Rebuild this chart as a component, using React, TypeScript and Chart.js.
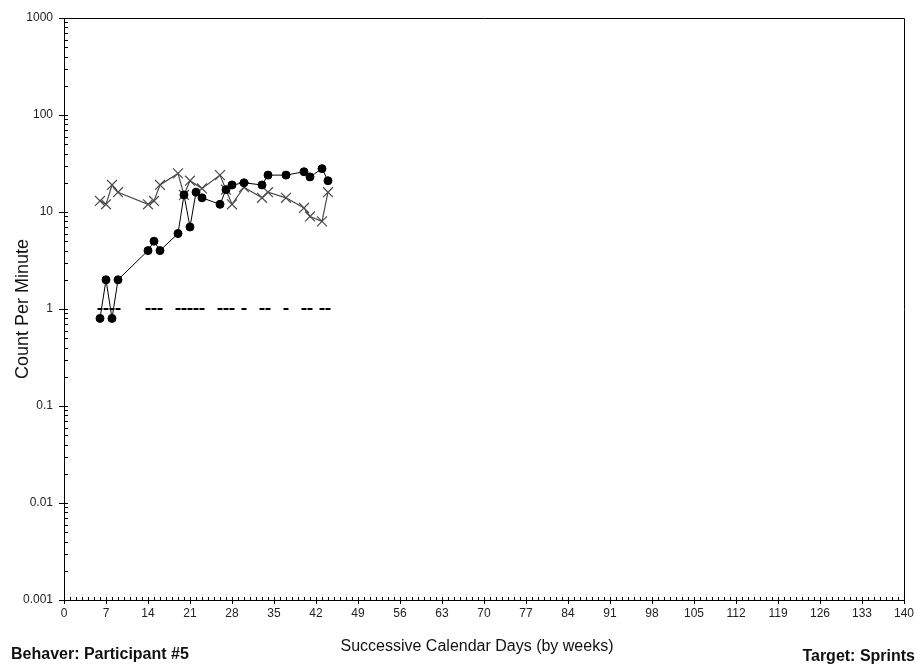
import React, { useEffect, useRef } from "react";
import { Chart, registerables } from "chart.js";

Chart.register(...registerables);

const correctDays = [6, 7, 8, 9, 14, 15, 16, 19, 20, 21, 22, 23, 26, 27, 28, 30, 33, 34, 37, 40, 41, 43, 44];
const correctValues = [0.8, 2, 0.8, 2, 4, 5, 4, 6, 15, 7, 16, 14, 12, 17, 19, 20, 19, 24, 24, 26, 23, 28, 21];

const incorrectDays = [6, 7, 8, 9, 14, 15, 16, 19, 20, 21, 23, 26, 27, 28, 30, 33, 34, 37, 40, 41, 43, 44];
const incorrectValues = [13, 12, 19, 16, 12, 13, 19, 25, 15, 21, 17.5, 24, 17, 12, 18, 14, 16, 14, 11, 9, 8, 16];

const floorDays = [6, 7, 8, 9, 14, 15, 16, 19, 20, 21, 22, 23, 26, 27, 28, 30, 33, 34, 37, 40, 41, 43, 44];
const floorValue = 1;

const yTickValues = [0.001, 0.01, 0.1, 1, 10, 100, 1000];
const yTickLabels = ["0.001", "0.01", "0.1", "1", "10", "100", "1000"];
const xMax = 140;
const xStep = 7;

const yTitle = "Count Per Minute";
const xTitle = "Successive Calendar Days (by weeks)";
const behaverText = "Behaver: Participant #5";
const targetText = "Target: Sprints";

const FONT = "'Liberation Sans', Arial, sans-serif";

const framePlugin = {
  id: "frame",
  afterDraw(chart: any) {
    const ctx = chart.ctx;
    const { left, right, top, bottom } = chart.chartArea;
    const ys = chart.scales.y;
    const xs = chart.scales.x;
    ctx.save();
    ctx.strokeStyle = "#000";
    ctx.lineWidth = 1;
    // frame
    ctx.beginPath();
    ctx.moveTo(Math.round(left) + 0.5, Math.round(top) + 0.5);
    ctx.lineTo(Math.round(right) + 0.5, Math.round(top) + 0.5);
    ctx.lineTo(Math.round(right) + 0.5, Math.round(bottom) + 0.5);
    ctx.lineTo(Math.round(left) + 0.5, Math.round(bottom) + 0.5);
    ctx.closePath();
    ctx.stroke();
    // y ticks
    ctx.beginPath();
    for (let i = 0; i < yTickValues.length; i++) {
      const dec = yTickValues[i];
      const py = Math.round(ys.getPixelForValue(dec)) + 0.5;
      ctx.moveTo(left - 5, py);
      ctx.lineTo(left + 4, py);
      if (i < yTickValues.length - 1) {
        for (let m = 2; m <= 9; m++) {
          const p = Math.round(ys.getPixelForValue(dec * m)) + 0.5;
          ctx.moveTo(left, p);
          ctx.lineTo(left + 4, p);
        }
      }
    }
    // x ticks
    for (let d = 0; d <= xMax; d++) {
      const px = Math.round(xs.getPixelForValue(d)) + 0.5;
      if (d % xStep === 0) {
        ctx.moveTo(px, bottom + 4);
        ctx.lineTo(px, bottom - 3);
      } else {
        ctx.moveTo(px, bottom);
        ctx.lineTo(px, bottom - 3);
      }
    }
    ctx.stroke();

    // titles
    ctx.fillStyle = "#111";
    ctx.font = `16px ${FONT}`;
    ctx.textAlign = "center";
    ctx.textBaseline = "middle";
    ctx.fillText(xTitle, 477, 647);

    ctx.save();
    ctx.translate(23, (top + bottom) / 2);
    ctx.rotate(-Math.PI / 2);
    ctx.font = `18px ${FONT}`;
    ctx.fillText(yTitle, 0, 0);
    ctx.restore();

    ctx.font = `bold 16px ${FONT}`;
    ctx.textAlign = "left";
    ctx.textBaseline = "alphabetic";
    ctx.fillText(behaverText, 11, 659);
    ctx.textAlign = "right";
    ctx.fillText(targetText, 915, 661);
    ctx.restore();
  },
};

export default function App() {
  const ref = useRef<HTMLCanvasElement | null>(null);
  useEffect(() => {
    if (!ref.current) return;
    const chart = new Chart(ref.current, {
      type: "line",
      data: {
        datasets: [
          {
            label: "Correct",
            data: correctDays.map((d, i) => ({ x: d, y: correctValues[i] })),
            borderColor: "#000",
            backgroundColor: "#000",
            borderWidth: 1,
            pointStyle: "circle",
            pointRadius: 4,
            pointBorderWidth: 1,
          },
          {
            label: "Incorrect",
            data: incorrectDays.map((d, i) => ({ x: d, y: incorrectValues[i] })),
            borderColor: "#4a4a4a",
            backgroundColor: "#4a4a4a",
            borderWidth: 1.2,
            pointStyle: "crossRot",
            pointRadius: 7,
            pointBorderWidth: 1.2,
          },
          {
            label: "Floor",
            data: floorDays.map((d) => ({ x: d, y: floorValue })),
            showLine: false,
            borderColor: "#000",
            backgroundColor: "#000",
            pointStyle: "line",
            pointRadius: 2.5,
            pointBorderWidth: 2,
          },
        ],
      },
      options: {
        responsive: false,
        animation: false,
        devicePixelRatio: 1,
        layout: { padding: { left: 0, right: 13, top: 18, bottom: 0 } },
        plugins: { legend: { display: false }, tooltip: { enabled: false } },
        scales: {
          x: {
            type: "linear",
            min: 0,
            max: xMax,
            grid: { display: false, drawTicks: false },
            border: { display: false },
            ticks: {
              stepSize: xStep,
              autoSkip: false,
              maxRotation: 0,
              padding: 6,
              color: "#222",
              font: { family: FONT, size: 12 },
            },
            afterFit: (s: any) => {
              s.height = 66;
              s.paddingLeft = 0;
              s.paddingRight = 0;
            },
          },
          y: {
            type: "logarithmic",
            min: 0.001,
            max: 1000,
            grid: { display: false, drawTicks: false },
            border: { display: false },
            afterBuildTicks: (s: any) => {
              s.ticks = yTickValues.map((v) => ({ value: v }));
            },
            ticks: {
              autoSkip: false,
              padding: 11,
              color: "#222",
              font: { family: FONT, size: 12 },
              callback: (v: any) => {
                const i = yTickValues.findIndex((t) => Math.abs(t - v) / t < 1e-6);
                return i >= 0 ? yTickLabels[i] : "";
              },
            },
            afterFit: (s: any) => {
              s.width = 64;
              s.paddingTop = 0;
              s.paddingBottom = 0;
            },
          },
        },
      },
      plugins: [framePlugin],
    });
    return () => chart.destroy();
  }, []);
  return (
    <div style={{ position: "fixed", left: 0, top: 0, width: 917, height: 666, background: "#fff" }}>
      <canvas ref={ref} width={917} height={666} style={{ display: "block" }} />
    </div>
  );
}
